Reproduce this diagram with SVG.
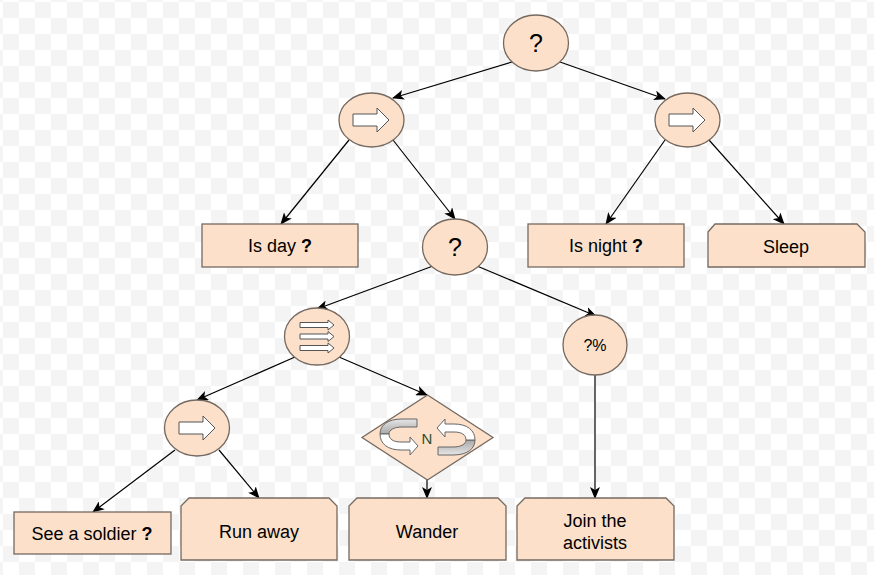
<svg xmlns="http://www.w3.org/2000/svg" width="874" height="575" viewBox="0 0 874 575">
<defs>
<pattern id="chk" width="32" height="32" patternUnits="userSpaceOnUse" patternTransform="translate(3,2)">
<rect width="32" height="32" fill="#ffffff"/>
<rect width="16" height="16" fill="#f4f4f4"/>
<rect x="16" y="16" width="16" height="16" fill="#f4f4f4"/>
</pattern>
<marker id="ah" markerWidth="12" markerHeight="10" refX="11" refY="5" orient="auto" markerUnits="userSpaceOnUse">
<path d="M0,0 L12,5 L0,10 L3,5 Z" fill="#000"/>
</marker>
<linearGradient id="band" x1="0" y1="0" x2="0" y2="1">
<stop offset="0" stop-color="#e6e6e6"/>
<stop offset="1" stop-color="#a8a8a8"/>
</linearGradient>
<g id="arrowGlyph">
<path d="M-18,-6 L6,-6 L6,-12 L18,0 L6,12 L6,6 L-18,6 Z" fill="#fff" stroke="#555" stroke-width="1"/>
</g>
<g id="thinArrow">
<path d="M-17,-2.5 L11,-2.5 L11,-5 L17,0 L11,5 L11,2.5 L-17,2.5 Z" fill="#fff" stroke="#555" stroke-width="1"/>
</g>
<g id="loop">
<path d="M417,419 L402,419 C388,419 380,425 380,434 L389,434 C389,430 394,427 402,427 L417,427 Z" fill="url(#band)" stroke="#666" stroke-width="1"/>
<path d="M380,434 C380,444 388,450 401,450 L410,450 L410,455 L418,446 L410,437 L410,442 L401,442 C393,442 389,439 389,434 Z" fill="#fff" stroke="#666" stroke-width="1"/>
</g>
</defs>
<style>
.n{fill:#fce0c9;stroke:#756960;stroke-width:1.3}
.t{font-family:"Liberation Sans",Arial,sans-serif;font-size:18px;fill:#000;text-anchor:middle;dominant-baseline:central}
.q{font-family:"Liberation Sans",Arial,sans-serif;font-size:25px;fill:#000;text-anchor:middle;dominant-baseline:central}
.b{font-weight:bold}
.e{stroke:#000;stroke-width:1.2;fill:none;marker-end:url(#ah)}
</style>
<rect width="874" height="575" fill="url(#chk)"/>

<g id="connectors">
<line class="e" x1="512" y1="62" x2="393" y2="98"/>
<line class="e" x1="560" y1="62" x2="665" y2="99"/>
<line class="e" x1="349" y1="140" x2="281" y2="224"/>
<line class="e" x1="393" y1="140" x2="455" y2="219"/>
<line class="e" x1="665" y1="140" x2="606" y2="224"/>
<line class="e" x1="709" y1="140" x2="784" y2="224"/>
<line class="e" x1="433" y1="266" x2="317" y2="309"/>
<line class="e" x1="477" y1="266" x2="596" y2="316"/>
<line class="e" x1="295" y1="357" x2="197" y2="400"/>
<line class="e" x1="339" y1="357" x2="427" y2="395"/>
<line class="e" x1="175" y1="450" x2="93" y2="512"/>
<line class="e" x1="219" y1="450" x2="259" y2="498"/>
<line class="e" x1="427" y1="480" x2="427" y2="498"/>
<line class="e" x1="595" y1="375" x2="595" y2="498"/>
</g>

<g id="root">
<ellipse class="n" cx="536" cy="43" rx="32.5" ry="28"/>
<text class="q" x="536" y="43">?</text>
</g>
<g id="seqLeft">
<ellipse class="n" cx="371.5" cy="120" rx="32.5" ry="27"/>
<use href="#arrowGlyph" x="371" y="120"/>
</g>
<g id="seqRight">
<ellipse class="n" cx="687.5" cy="120" rx="32.5" ry="27"/>
<use href="#arrowGlyph" x="687" y="120"/>
</g>
<g id="isDay">
<rect class="n" x="202" y="224" width="156" height="43"/>
<text class="t" x="280" y="246">Is day <tspan class="b">?</tspan></text>
</g>
<g id="sel2">
<ellipse class="n" cx="455" cy="247" rx="32.5" ry="28"/>
<text class="q" x="455" y="247">?</text>
</g>
<g id="isNight">
<rect class="n" x="528" y="224" width="156" height="43"/>
<text class="t" x="606" y="246">Is night <tspan class="b">?</tspan></text>
</g>
<g id="sleep">
<path class="n" d="M715,224 L857,224 L865,232 L865,267 L708,267 L708,232 Z"/>
<text class="t" x="786" y="247">Sleep</text>
</g>
<g id="parallel">
<ellipse class="n" cx="317" cy="336.5" rx="32.5" ry="28.5"/>
<use href="#thinArrow" x="317" y="325"/>
<use href="#thinArrow" x="317" y="336.5"/>
<use href="#thinArrow" x="317" y="348"/>
</g>
<g id="random">
<ellipse class="n" cx="595" cy="345" rx="32" ry="30"/>
<text class="t" x="595" y="345" style="font-size:16px">?%</text>
</g>
<g id="seq3">
<ellipse class="n" cx="197" cy="428" rx="32.5" ry="28"/>
<use href="#arrowGlyph" x="197" y="428"/>
</g>
<g id="repeat">
<path class="n" d="M427.5,395 L493,437.5 L427.5,480 L362,437.5 Z"/>
<use href="#loop"/>
<use href="#loop" transform="rotate(180 427.5 437)"/>
<text x="427" y="438" style="font-family:'Liberation Sans',Arial,sans-serif;font-size:15px;fill:#2f4f2f;text-anchor:middle;dominant-baseline:central">N</text>
</g>
<g id="seeSoldier">
<rect class="n" x="14" y="512" width="157" height="42"/>
<text class="t" x="92" y="534">See a soldier <tspan class="b">?</tspan></text>
</g>
<g id="runAway">
<path class="n" d="M189,498 L329,498 L337,506 L337,560 L181,560 L181,506 Z"/>
<text class="t" x="259" y="532">Run away</text>
</g>
<g id="wander">
<path class="n" d="M357,498 L498,498 L506,506 L506,560 L349,560 L349,506 Z"/>
<text class="t" x="427" y="532">Wander</text>
</g>
<g id="join">
<path class="n" d="M525,498 L666,498 L674,506 L674,560 L517,560 L517,506 Z"/>
<text class="t" x="595" y="521">Join the</text>
<text class="t" x="595" y="543">activists</text>
</g>
</svg>
